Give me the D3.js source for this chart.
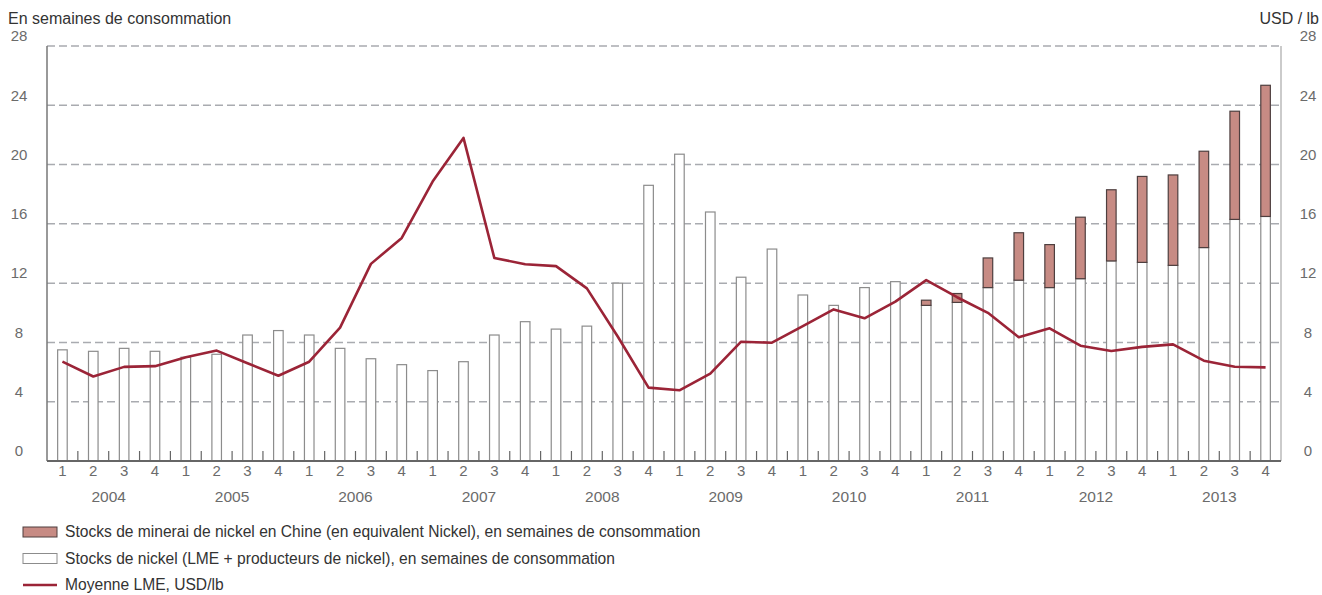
<!DOCTYPE html>
<html lang="en">
<head>
<meta charset="UTF-8">
<title>Stocks de nickel et Moyenne LME</title>
<script src="https://d3js.org/d3.v7.min.js"></script>
<style>
    body { margin: 0; background: #fff; }
    svg text { font-family: "Liberation Sans", Arial, Helvetica, sans-serif; }
</style>
</head>
<body>
<script>
// quarters 2004 Q1 .. 2013 Q4
const years = ["2004", "2005", "2006", "2007", "2008", "2009", "2010", "2011", "2012", "2013"];
const quarterLabels = ["1", "2", "3", "4"];

// Stocks de nickel (LME + producteurs), semaines de consommation
const nickelStocks = [
    7.5, 7.4, 7.6, 7.4,
    7.0, 7.2, 8.5, 8.8,
    8.5, 7.6, 6.9, 6.5,
    6.1, 6.7, 8.5, 9.4,
    8.9, 9.1, 12.0, 18.6,
    20.7, 16.8, 12.4, 14.3,
    11.2, 10.5, 11.7, 12.1,
    10.5, 10.7, 11.7, 12.2,
    11.7, 12.3, 13.5, 13.4,
    13.2, 14.4, 16.3, 16.5
];

// Stocks de minerai en Chine (equivalent Nickel), semaines de consommation
const chinaOre = [
    0, 0, 0, 0,
    0, 0, 0, 0,
    0, 0, 0, 0,
    0, 0, 0, 0,
    0, 0, 0, 0,
    0, 0, 0, 0,
    0, 0, 0, 0,
    0.35, 0.6, 2.0, 3.2,
    2.9, 4.15, 4.8, 5.8,
    6.1, 6.5, 7.3, 8.85
];

// Moyenne LME, USD/lb
const lmePrice = [
    6.7, 5.7, 6.35, 6.4,
    7.0, 7.45, 6.6, 5.75,
    6.7, 9.0, 13.3, 15.05,
    18.85, 21.8, 13.7, 13.27,
    13.15, 11.65, 8.4, 4.95,
    4.77, 5.9, 8.05, 7.98,
    9.1, 10.23, 9.63, 10.75,
    12.2, 11.05, 10.0, 8.35,
    8.95, 7.78, 7.42, 7.7,
    7.87, 6.77, 6.36, 6.32
];

const yTicks = [0, 4, 8, 12, 16, 20, 24, 28];

const legendItems = [
    { type: "china", label: "Stocks de minerai de nickel en Chine (en equivalent Nickel), en semaines de consommation" },
    { type: "nickel", label: "Stocks de nickel (LME + producteurs de nickel), en semaines de consommation" },
    { type: "line", label: "Moyenne LME, USD/lb" }
];

const width = 1322, height = 595;
const margin = { left: 47, right: 41, top: 46, bottom: 134 };
const plotRight = width - margin.right;
const plotBottom = height - margin.bottom;

const colors = {
    china: "#c78b84",
    chinaStroke: "#4e3f3f",
    nickelStroke: "#8c8c8c",
    line: "#9b2437",
    grid: "#a9abb0",
    text: "#6b6b6b",
    dark: "#333333"
};

const quarters = [];
years.forEach(y => quarterLabels.forEach(q => quarters.push(y + "-" + q)));

const svg = d3.select("body").append("svg")
    .attr("width", width)
    .attr("height", height);

const x = d3.scaleBand()
    .domain(quarters)
    .range([margin.left, plotRight])
    .paddingInner(0.69)
    .paddingOuter(0.345);

const y = d3.scaleLinear()
    .domain([0, 28])
    .range([plotBottom, margin.top]);

// gridlines
svg.append("g")
    .selectAll("line")
    .data(yTicks.filter(d => d > 0))
    .enter().append("line")
    .attr("x1", margin.left)
    .attr("x2", plotRight)
    .attr("y1", d => y(d))
    .attr("y2", d => y(d))
    .attr("stroke", colors.grid)
    .attr("stroke-width", 1.5)
    .attr("stroke-dasharray", "8,4");

// left & right axis lines
svg.append("line")
    .attr("x1", margin.left).attr("x2", margin.left)
    .attr("y1", margin.top).attr("y2", plotBottom)
    .attr("stroke", "#777").attr("stroke-width", 1.5);
svg.append("line")
    .attr("x1", plotRight).attr("x2", plotRight)
    .attr("y1", margin.top).attr("y2", plotBottom)
    .attr("stroke", "#a8a8a8").attr("stroke-width", 1.2);

// y tick labels (both sides)
const tickOffset = -10;
[19, 1308].forEach(tx => {
    svg.append("g")
        .selectAll("text")
        .data(yTicks)
        .enter().append("text")
        .attr("x", tx)
        .attr("y", d => y(d) + tickOffset)
        .attr("dy", "0.35em")
        .attr("text-anchor", "middle")
        .attr("font-size", 15)
        .attr("fill", colors.text)
        .text(d => d);
});

// axis titles
svg.append("text")
    .attr("x", 8).attr("y", 18).attr("dy", "0.35em")
    .attr("font-size", 16).attr("fill", colors.dark)
    .text("En semaines de consommation");
svg.append("text")
    .attr("x", 1319).attr("y", 18).attr("dy", "0.35em")
    .attr("text-anchor", "end")
    .attr("font-size", 16).attr("fill", colors.dark)
    .text("USD / lb");

// nickel stock bars (white)
const bw = x.bandwidth();
svg.append("g")
    .selectAll("rect")
    .data(quarters)
    .enter().append("rect")
    .attr("x", d => x(d))
    .attr("width", bw)
    .attr("y", (d, i) => y(nickelStocks[i]))
    .attr("height", (d, i) => y(0) - y(nickelStocks[i]))
    .attr("fill", "#fff")
    .attr("stroke", colors.nickelStroke)
    .attr("stroke-width", 1.2);

// china ore stacked on top
svg.append("g")
    .selectAll("rect")
    .data(quarters.filter((d, i) => chinaOre[i] > 0))
    .enter().append("rect")
    .attr("x", d => x(d))
    .attr("width", bw)
    .attr("y", d => { const i = quarters.indexOf(d); return y(nickelStocks[i] + chinaOre[i]); })
    .attr("height", d => { const i = quarters.indexOf(d); return y(nickelStocks[i]) - y(nickelStocks[i] + chinaOre[i]); })
    .attr("fill", colors.china)
    .attr("stroke", colors.chinaStroke)
    .attr("stroke-width", 1.2);

// bottom axis: minor ticks between quarters
const step = x.step();
svg.append("g")
    .selectAll("line")
    .data(d3.range(1, quarters.length))
    .enter().append("line")
    .attr("x1", k => margin.left + k * step)
    .attr("x2", k => margin.left + k * step)
    .attr("y1", plotBottom)
    .attr("y2", plotBottom - 10)
    .attr("stroke", "#666")
    .attr("stroke-width", 1.2);

svg.append("line")
    .attr("x1", margin.left).attr("x2", plotRight)
    .attr("y1", plotBottom).attr("y2", plotBottom)
    .attr("stroke", "#666").attr("stroke-width", 2);

// quarter labels
svg.append("g")
    .selectAll("text")
    .data(quarters)
    .enter().append("text")
    .attr("x", d => x(d) + bw / 2)
    .attr("y", plotBottom + 10)
    .attr("dy", "0.35em")
    .attr("text-anchor", "middle")
    .attr("font-size", 15)
    .attr("fill", colors.text)
    .text(d => d.split("-")[1]);

// year labels
svg.append("g")
    .selectAll("text")
    .data(years)
    .enter().append("text")
    .attr("x", (d, i) => margin.left + (i * 4 + 2) * step)
    .attr("y", plotBottom + 36)
    .attr("dy", "0.35em")
    .attr("text-anchor", "middle")
    .attr("font-size", 15.5)
    .attr("fill", colors.text)
    .text(d => d);

// LME line
const line = d3.line()
    .x((d, i) => x(quarters[i]) + bw / 2)
    .y(d => y(d));

svg.append("path")
    .datum(lmePrice)
    .attr("d", line)
    .attr("fill", "none")
    .attr("stroke", colors.line)
    .attr("stroke-width", 2.6)
    .attr("stroke-linejoin", "round");

// legend
const legend = svg.append("g")
    .selectAll("g")
    .data(legendItems)
    .enter().append("g")
    .attr("transform", (d, i) => `translate(23, ${532 + i * 26.5})`);

legend.filter(d => d.type === "china").append("rect")
    .attr("x", 0).attr("y", -5).attr("width", 34).attr("height", 10)
    .attr("fill", colors.china).attr("stroke", colors.chinaStroke).attr("stroke-width", 1);
legend.filter(d => d.type === "nickel").append("rect")
    .attr("x", 0).attr("y", -5).attr("width", 34).attr("height", 10)
    .attr("fill", "#fff").attr("stroke", colors.nickelStroke).attr("stroke-width", 1);
legend.filter(d => d.type === "line").append("line")
    .attr("x1", 0).attr("x2", 34).attr("y1", 0).attr("y2", 0)
    .attr("stroke", colors.line).attr("stroke-width", 2.6);

legend.append("text")
    .attr("x", 42)
    .attr("dy", "0.35em")
    .attr("font-size", 15.6)
    .attr("fill", colors.dark)
    .text(d => d.label);
</script>
</body>
</html>
